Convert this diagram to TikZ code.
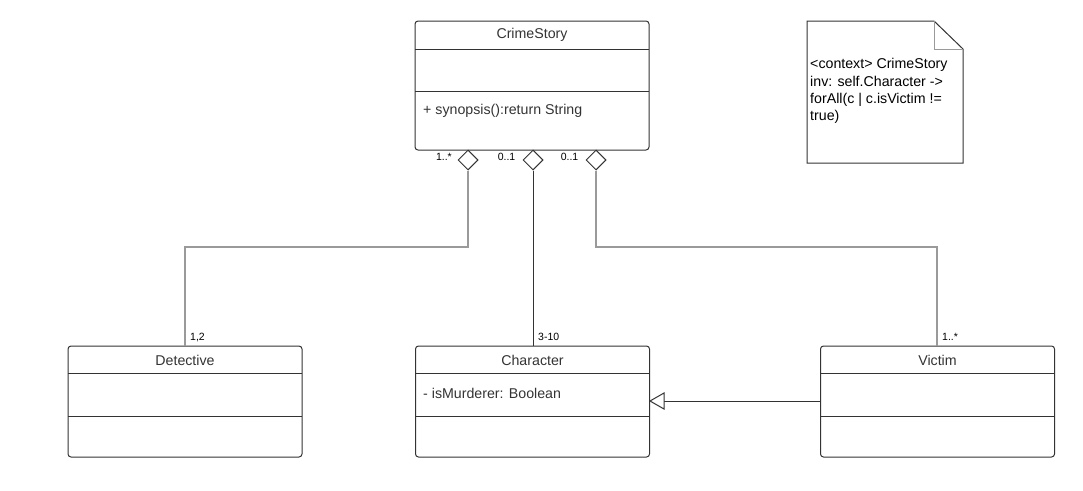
\documentclass[tikz,border=0pt]{standalone}
\usepackage{fontspec}
\setmainfont{Liberation Sans}
\usetikzlibrary{shapes.geometric,calc}
\definecolor{ink}{HTML}{333333}
\definecolor{lgray}{HTML}{9A9A9A}
\tikzset{
  classbox/.style={draw=ink, line width=1pt, rounded corners=3pt, minimum width=234pt, inner sep=0pt},
  divider/.style={draw=ink, line width=1pt},
  ctitle/.style={font=\fontsize{14.2}{17}\selectfont, text=ink, inner sep=0pt},
  member/.style={font=\fontsize{14.2}{17}\selectfont, text=ink, inner sep=0pt, anchor=west},
  mult/.style={font=\fontsize{10.5}{12}\selectfont, text=black, inner sep=0pt},
  aggr/.style={draw=ink, line width=1pt, fill=white, diamond, aspect=1, minimum width=20pt, minimum height=20pt, inner sep=0pt},
  conn/.style={draw=ink, line width=1pt},
  lconn/.style={draw=lgray, line width=1.2pt},
}
\begin{document}
\begin{tikzpicture}[x=1pt,y=-1pt]
\useasboundingbox (0,0) rectangle (1083,490);
% CrimeStory
\node[classbox, minimum height=129pt] (cs) at (532,85.5) {};
\draw[divider] (415,49) -- (649,49);
\draw[divider] (415,91) -- (649,91);
\node[ctitle] (cst) at (532,35) {CrimeStory};
\node[member] (csop) at (423,111) {+ synopsis():return String};
% Detective
\node[classbox, minimum height=111pt] (det) at (185,401.5) {};
\draw[divider] (68,373) -- (302,373);
\draw[divider] (68,416) -- (302,416);
\node[ctitle] (dett) at (185,360) {Detective};
% Character
\node[classbox, minimum height=111pt] (chr) at (532.5,401.5) {};
\draw[divider] (415.5,373) -- (649.5,373);
\draw[divider] (415.5,416) -- (649.5,416);
\node[ctitle] (chrt) at (532.5,360) {Character};
\node[member] (chra) at (423,393) {- isMurderer: Boolean};
% Victim
\node[classbox, minimum height=111pt] (vic) at (937.5,401.5) {};
\draw[divider] (820.5,373) -- (1054.5,373);
\draw[divider] (820.5,416) -- (1054.5,416);
\node[ctitle] (vict) at (937.5,360) {Victim};
% diamonds
\node[aggr] (d1) at (468,160) {};
\node[aggr] (d2) at (533,160) {};
\node[aggr] (d3) at (596,160) {};
% connectors
\draw[lconn] (d1.south) |- (185,247) -- (det.north -| 185,0);
\draw[conn] (d2.south) -- (d2.south |- chr.north);
\draw[lconn] (d3.south) |- (937,247) -- (vic.north -| 937,0);
% generalization
\coordinate (gtip) at (chr.east |- 0,401);
\coordinate (gstart) at (vic.west |- 0,401);
\draw[conn] (gstart) -- ($(gtip)+(14,0)$);
\draw[conn, fill=white] (gtip) -- ++(14,-8) -- ++(0,16) -- cycle;
% multiplicities
\node[mult, anchor=east] (m1) at (452,157) {1..*};
\node[mult] (m2) at (506.5,157) {0..1};
\node[mult] (m3) at (569.5,157) {0..1};
\node[mult, anchor=west] (m4) at (190,337) {1,2};
\node[mult, anchor=west] (m5) at (538,337) {3-10};
\node[mult, anchor=west] (m6) at (942,337) {1..*};
% note
\draw[ink, line width=1pt] (807,21) -- (934,21) -- (963,49) -- (963,163) -- (807,163) -- cycle;
\draw[lgray, line width=0.8pt] (934,21) -- (934,49) -- (963,49);
\node[font=\fontsize{14.2}{17.3}\selectfont, text=black, align=left, anchor=north west, inner sep=0pt] (note) at (810,58.5)
{<context> CrimeStory\\inv: self.Character ->\\forAll(c | c.isVictim !=\\true)};
\end{tikzpicture}
\end{document}
